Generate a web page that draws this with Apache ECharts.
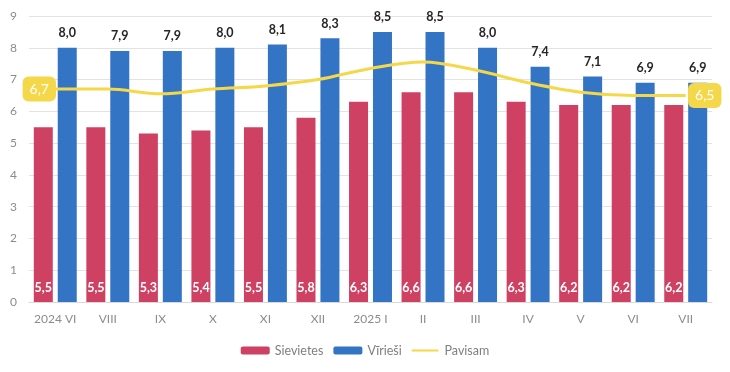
<!DOCTYPE html>
<html><head><meta charset="utf-8">
<script src="https://cdn.jsdelivr.net/npm/echarts@6/dist/echarts.min.js"></script>
<style>html,body{margin:0;padding:0;background:#fff}#c{width:730px;height:372px}</style>
</head><body><div id="c"></div>
<script>
const categories = ['2024 VI','VIII','IX','X','XI','XII','2025 I','II','III','IV','V','VI','VII'];
const women = [5.5,5.5,5.3,5.4,5.5,5.8,6.3,6.6,6.6,6.3,6.2,6.2,6.2];
const men = [8.0,7.9,7.9,8.0,8.1,8.3,8.5,8.5,8.0,7.4,7.1,6.9,6.9];
const total = [6.7,6.7,6.55,6.7,6.8,7.0,7.35,7.55,7.3,6.9,6.6,6.5,6.5];
const yTicks = {min:0, max:9, interval:1};

const fmt = v => v.toFixed(1).replace('.', ',');
const font = 'Lato, "Open Sans", sans-serif';
const last = total.length - 1;
const totalData = total.map((v,i) => {
  const edge = i===0 || i===last;
  return {
    value: v,
    symbol: edge ? 'circle' : 'none',
    symbolSize: 0.1,
    label: {show: edge, offset: [i===0 ? -16 : 19, 0]}
  };
});
const lineIcon = 'path://M0,0L0.05,0L0.05,0.05Z M0,3.4L30,3.4L30,5.6L0,5.6Z M0,8.95L0.05,8.95L0.05,9Z';
const chart = echarts.init(document.getElementById('c'));
chart.setOption({
  animation:false,
  textStyle:{fontFamily:font},
  grid:{left:29,right:18,top:16,bottom:70},
  legend:{
    bottom:10, left:'center', itemWidth:29, itemHeight:8, itemGap:10,
    textStyle:{color:'#7f7f7f', fontSize:12.5, fontFamily:font},
    data:['Sievietes','Vīrieši',{name:'Pavisam', icon:lineIcon, itemStyle:{color:'#F5D84A'}}]
  },
  xAxis:{type:'category', data:categories,
    axisLine:{lineStyle:{color:'#d9d9d9'}}, axisTick:{show:false},
    axisLabel:{color:'#8c8c8c', fontSize:12, margin:11, interval:0}},
  yAxis:{type:'value', min:yTicks.min, max:yTicks.max, interval:yTicks.interval,
    axisLabel:{color:'#8c8c8c', fontSize:12, margin:12},
    splitLine:{lineStyle:{color:'#e3e3e3'}}},
  series:[
    {name:'Sievietes', type:'bar', data:women, barWidth:19, barGap:'26%',
      itemStyle:{color:'#CE4163'},
      label:{show:true, position:'insideBottom', distance:8, color:'#fff', fontWeight:'bold', fontSize:12.5,
        formatter:p=>fmt(p.value)}},
    {name:'Vīrieši', type:'bar', data:men, barWidth:19,
      itemStyle:{color:'#3374C4'},
      label:{show:true, position:'top', distance:8, color:'#262626', fontWeight:'bold', fontSize:12.5,
        formatter:p=>fmt(p.value)}},
    {name:'Pavisam', type:'line', data:totalData, smooth:0.35, symbol:'none', showSymbol:true,
      lineStyle:{color:'#F5D84A', width:3}, itemStyle:{color:'#F5D84A'},
      label:{position:'inside', color:'#fff', fontSize:14,
        backgroundColor:'#F5D84A', borderRadius:6, padding:[6,7,5,7],
        formatter:p=>fmt(p.value)}
    }
  ]
});
</script></body></html>
